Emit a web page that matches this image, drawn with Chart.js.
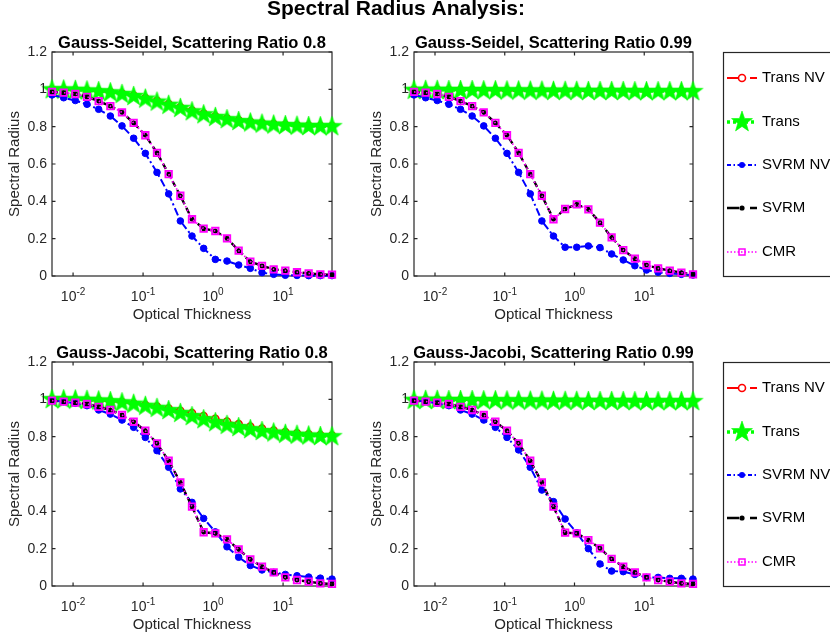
<!DOCTYPE html>
<html>
<head>
<meta charset="utf-8">
<script src="https://cdn.jsdelivr.net/npm/chart.js@4.4.1/dist/chart.umd.min.js"></script>
<style>
  html, body { margin: 0; padding: 0; background: #fff; }
  #fig { position: relative; width: 830px; height: 640px; overflow: hidden; background: #fff; }
  #fig canvas { position: absolute; }
</style>
</head>
<body>
<div id="fig">
  <canvas id="bg" width="830" height="640" style="left:0;top:0"></canvas>
</div>
<script>
// Optical thickness sample points (shared by every panel)
const tau = [0.005, 0.00734, 0.01077, 0.01581, 0.02321, 0.03407, 0.05, 0.07339, 0.1077, 0.1581,
             0.2321, 0.3407, 0.5, 0.7339, 1.077, 1.581, 2.321, 3.407, 5, 7.339,
             10.77, 15.81, 23.21, 34.07, 50];

const yTicks = [0, 0.2, 0.4, 0.6, 0.8, 1, 1.2];
const xDecades = [0.01, 0.1, 1, 10];
const xDecadeExp = ['-2', '-1', '0', '1'];
const seriesNames = ['Trans NV', 'Trans', 'SVRM NV', 'SVRM', 'CMR'];
const panelTitles = [
  'Gauss-Seidel, Scattering Ratio 0.8',
  'Gauss-Seidel, Scattering Ratio 0.99',
  'Gauss-Jacobi, Scattering Ratio 0.8',
  'Gauss-Jacobi, Scattering Ratio 0.99'
];

// Gauss-Seidel, c = 0.8
const gs08TransNV = [0.999, 0.998, 0.996, 0.994, 0.990, 0.985, 0.977, 0.967, 0.953, 0.938, 0.921, 0.904, 0.887, 0.870, 0.856, 0.844, 0.834, 0.826, 0.819, 0.814, 0.810, 0.807, 0.805, 0.804, 0.803];
const gs08Trans   = [0.998, 0.997, 0.995, 0.992, 0.988, 0.982, 0.973, 0.962, 0.948, 0.932, 0.915, 0.898, 0.880, 0.864, 0.850, 0.838, 0.828, 0.820, 0.814, 0.809, 0.806, 0.803, 0.801, 0.800, 0.800];
const gs08SvrmNV  = [0.970, 0.955, 0.940, 0.920, 0.893, 0.857, 0.804, 0.738, 0.657, 0.555, 0.440, 0.295, 0.214, 0.148, 0.089, 0.080, 0.059, 0.041, 0.018, 0.009, 0.004, 0.003, 0.002, 0.002, 0.002];
const gs08Svrm    = [0.986, 0.982, 0.975, 0.960, 0.937, 0.910, 0.877, 0.820, 0.754, 0.660, 0.546, 0.430, 0.304, 0.254, 0.241, 0.202, 0.136, 0.077, 0.054, 0.036, 0.029, 0.020, 0.014, 0.009, 0.007];
const gs08Cmr     = [0.986, 0.982, 0.975, 0.960, 0.937, 0.910, 0.877, 0.820, 0.754, 0.660, 0.546, 0.430, 0.304, 0.254, 0.241, 0.202, 0.136, 0.077, 0.054, 0.036, 0.029, 0.020, 0.014, 0.009, 0.007];

// Gauss-Seidel, c = 0.99
const gs99TransNV = [0.997, 0.997, 0.997, 0.996, 0.996, 0.996, 0.995, 0.995, 0.994, 0.994, 0.993, 0.993, 0.992, 0.992, 0.992, 0.991, 0.991, 0.991, 0.991, 0.990, 0.990, 0.990, 0.990, 0.990, 0.990];
const gs99Trans   = [0.995, 0.995, 0.995, 0.994, 0.994, 0.994, 0.993, 0.993, 0.992, 0.992, 0.991, 0.991, 0.990, 0.990, 0.990, 0.989, 0.989, 0.989, 0.989, 0.988, 0.988, 0.988, 0.988, 0.988, 0.988];
const gs99SvrmNV  = [0.970, 0.955, 0.940, 0.920, 0.893, 0.857, 0.804, 0.738, 0.657, 0.555, 0.440, 0.295, 0.214, 0.154, 0.154, 0.161, 0.152, 0.118, 0.086, 0.055, 0.032, 0.020, 0.014, 0.009, 0.005];
const gs99Svrm    = [0.986, 0.982, 0.975, 0.960, 0.937, 0.910, 0.877, 0.820, 0.754, 0.660, 0.546, 0.430, 0.304, 0.359, 0.384, 0.357, 0.286, 0.207, 0.139, 0.093, 0.059, 0.041, 0.029, 0.018, 0.009];
const gs99Cmr     = [0.986, 0.982, 0.975, 0.960, 0.937, 0.910, 0.877, 0.820, 0.754, 0.660, 0.546, 0.430, 0.304, 0.359, 0.384, 0.357, 0.286, 0.207, 0.139, 0.093, 0.059, 0.041, 0.029, 0.018, 0.009];

// Gauss-Jacobi, c = 0.8
const gj08TransNV = [1.000, 0.999, 0.998, 0.996, 0.993, 0.990, 0.985, 0.978, 0.970, 0.961, 0.951, 0.939, 0.926, 0.911, 0.896, 0.881, 0.867, 0.854, 0.843, 0.833, 0.825, 0.818, 0.813, 0.809, 0.806];
const gj08Trans   = [0.999, 0.998, 0.997, 0.995, 0.992, 0.988, 0.982, 0.974, 0.963, 0.952, 0.940, 0.925, 0.908, 0.891, 0.875, 0.861, 0.849, 0.838, 0.828, 0.820, 0.813, 0.808, 0.804, 0.801, 0.800];
const gj08SvrmNV  = [0.993, 0.988, 0.979, 0.966, 0.943, 0.921, 0.889, 0.850, 0.796, 0.725, 0.636, 0.520, 0.448, 0.362, 0.290, 0.210, 0.154, 0.110, 0.086, 0.073, 0.062, 0.055, 0.048, 0.042, 0.037];
const gj08Svrm    = [0.993, 0.988, 0.982, 0.975, 0.960, 0.943, 0.916, 0.880, 0.832, 0.764, 0.671, 0.555, 0.425, 0.288, 0.282, 0.250, 0.196, 0.143, 0.104, 0.073, 0.046, 0.032, 0.023, 0.014, 0.011];
const gj08Cmr     = [0.993, 0.988, 0.982, 0.975, 0.960, 0.943, 0.916, 0.880, 0.832, 0.764, 0.671, 0.555, 0.425, 0.288, 0.282, 0.250, 0.196, 0.143, 0.104, 0.073, 0.046, 0.032, 0.023, 0.014, 0.011];

// Gauss-Jacobi, c = 0.99
const gj99TransNV = [0.997, 0.997, 0.997, 0.996, 0.996, 0.996, 0.995, 0.995, 0.994, 0.994, 0.993, 0.993, 0.992, 0.992, 0.992, 0.991, 0.991, 0.991, 0.991, 0.990, 0.990, 0.990, 0.990, 0.990, 0.990];
const gj99Trans   = [0.995, 0.995, 0.995, 0.994, 0.994, 0.994, 0.993, 0.993, 0.992, 0.992, 0.991, 0.991, 0.990, 0.990, 0.990, 0.989, 0.989, 0.989, 0.989, 0.988, 0.988, 0.988, 0.988, 0.988, 0.988];
const gj99SvrmNV  = [0.993, 0.988, 0.979, 0.966, 0.943, 0.921, 0.889, 0.850, 0.796, 0.729, 0.636, 0.514, 0.452, 0.359, 0.285, 0.200, 0.118, 0.080, 0.077, 0.062, 0.046, 0.046, 0.041, 0.041, 0.037];
const gj99Svrm    = [0.993, 0.988, 0.982, 0.975, 0.960, 0.943, 0.916, 0.880, 0.832, 0.764, 0.671, 0.555, 0.425, 0.286, 0.282, 0.246, 0.202, 0.145, 0.104, 0.073, 0.046, 0.032, 0.023, 0.014, 0.011];
const gj99Cmr     = [0.993, 0.988, 0.982, 0.975, 0.960, 0.943, 0.916, 0.880, 0.832, 0.764, 0.671, 0.555, 0.425, 0.286, 0.282, 0.246, 0.202, 0.145, 0.104, 0.073, 0.046, 0.032, 0.023, 0.014, 0.011];

const FONT = '"Liberation Sans", Arial, Helvetica, sans-serif';
const AXIS_COLOR = '#262626';

// Filled five-point star used as the "Trans" marker
function starCanvas(rOut, color) {
  const s = Math.ceil(rOut * 2 + 2);
  const cv = document.createElement('canvas');
  cv.width = s; cv.height = s;
  const g = cv.getContext('2d');
  const cx = s / 2, cy = s / 2;
  g.beginPath();
  for (let i = 0; i < 10; i++) {
    const r = (i % 2) ? rOut * 0.4 : rOut;
    const a = -Math.PI / 2 + i * Math.PI / 5;
    g.lineTo(cx + r * Math.cos(a), cy + r * Math.sin(a));
  }
  g.closePath();
  g.fillStyle = color; g.fill();
  g.strokeStyle = color; g.lineWidth = 0.6; g.stroke();
  return cv;
}
const starMarker = starCanvas(10.5, '#00ff00');
const starLegend = starCanvas(11, '#00ff00');

// Line / marker styles for the five methods (MATLAB-like)
const styles = [
  { color: '#ff0000', width: 2,   dash: [8, 4],         legendDash: [12, 11], point: 'circle', radius: 3.5, fill: '#ffffff', pw: 1.6, order: 5 },
  { color: '#00ff00', width: 2.5, dash: [2.5, 3],       legendDash: [3, 3],   point: starMarker, radius: 10, fill: '#00ff00', pw: 0, order: 4 },
  { color: '#0000ff', width: 2,   dash: [8, 3, 2, 3],   legendDash: [4, 2.5, 1.5, 2.5], point: 'circle', radius: 3.3, fill: '#0000ff', pw: 1, order: 3 },
  { color: '#000000', width: 2.4, dash: [6, 4],         legendDash: [12, 11], point: 'star',   radius: 2.6, fill: '#000000', pw: 1.4, order: 2 },
  { color: '#ff00ff', width: 1.7, dash: [1.5, 2.5],     legendDash: [1.5, 2], point: 'rect',   radius: 4.6, fill: 'rgba(255,255,255,0)', pw: 1.8, order: 1 }
];

const panels = [
  { title: panelTitles[0], l: 52,  t: 52,  r: 332, b: 276, series: [gs08TransNV, gs08Trans, gs08SvrmNV, gs08Svrm, gs08Cmr] },
  { title: panelTitles[1], l: 414, t: 52,  r: 693, b: 276, series: [gs99TransNV, gs99Trans, gs99SvrmNV, gs99Svrm, gs99Cmr] },
  { title: panelTitles[2], l: 52,  t: 362, r: 332, b: 586, series: [gj08TransNV, gj08Trans, gj08SvrmNV, gj08Svrm, gj08Cmr] },
  { title: panelTitles[3], l: 414, t: 362, r: 693, b: 586, series: [gj99TransNV, gj99Trans, gj99SvrmNV, gj99Svrm, gj99Cmr] }
];

// Box, inward ticks and labels in the MATLAB axes style
const matlabAxes = {
  id: 'matlabAxes',
  beforeDatasetsDraw(chart) {
    const { ctx, chartArea: a, scales: { x, y } } = chart;
    ctx.save();
    ctx.strokeStyle = AXIS_COLOR;
    ctx.lineWidth = 1.2;
    ctx.strokeRect(a.left, a.top, a.right - a.left, a.bottom - a.top);
    ctx.beginPath();
    for (const v of yTicks) {
      const py = y.getPixelForValue(v);
      ctx.moveTo(a.left, py); ctx.lineTo(a.left + 3.5, py);
      ctx.moveTo(a.right, py); ctx.lineTo(a.right - 3.5, py);
    }
    for (const v of xDecades) {
      const px = x.getPixelForValue(v);
      ctx.moveTo(px, a.bottom); ctx.lineTo(px, a.bottom - 3.5);
      ctx.moveTo(px, a.top); ctx.lineTo(px, a.top + 3.5);
    }
    ctx.stroke();
    ctx.restore();
  },
  afterDraw(chart, args, opts) {
    const { ctx, chartArea: a, scales: { x, y } } = chart;
    ctx.save();
    ctx.fillStyle = AXIS_COLOR;
    // y tick labels
    ctx.font = '14px ' + FONT;
    ctx.textAlign = 'right';
    ctx.textBaseline = 'middle';
    for (const v of yTicks) {
      ctx.fillText(String(Number(v.toFixed(1))), a.left - 5, y.getPixelForValue(v));
    }
    // x tick labels: 10 with superscript exponent
    xDecades.forEach((v, i) => {
      const px = x.getPixelForValue(v);
      ctx.font = '14px ' + FONT;
      const wb = ctx.measureText('10').width;
      ctx.font = '10px ' + FONT;
      const we = ctx.measureText(xDecadeExp[i]).width;
      const x0 = px - (wb + we) / 2;
      ctx.textAlign = 'left';
      ctx.textBaseline = 'alphabetic';
      ctx.font = '14px ' + FONT;
      ctx.fillText('10', x0, a.bottom + 25);
      ctx.font = '10px ' + FONT;
      ctx.fillText(xDecadeExp[i], x0 + wb, a.bottom + 19);
    });
    // axis titles
    ctx.font = '15px ' + FONT;
    ctx.textAlign = 'center';
    ctx.textBaseline = 'middle';
    ctx.fillText('Optical Thickness', (a.left + a.right) / 2, a.bottom + 39);
    ctx.save();
    ctx.translate(a.left - 37, (a.top + a.bottom) / 2);
    ctx.rotate(-Math.PI / 2);
    ctx.fillText('Spectral Radius', 0, 0);
    ctx.restore();
    // panel title
    ctx.fillStyle = '#000';
    ctx.font = 'bold 16.5px ' + FONT;
    ctx.textBaseline = 'alphabetic';
    ctx.fillText(opts.title, (a.left + a.right) / 2, a.top - 4);
    ctx.restore();
  }
};

const fig = document.getElementById('fig');

function makePanel(p) {
  const padL = 52, padT = 32, padR = 20, padB = 52;
  const c = document.createElement('canvas');
  c.width = padL + (p.r - p.l) + padR;
  c.height = padT + (p.b - p.t) + padB;
  c.style.left = (p.l - padL) + 'px';
  c.style.top = (p.t - padT) + 'px';
  fig.appendChild(c);

  const datasets = p.series.map((vals, i) => {
    const s = styles[i];
    return {
      label: seriesNames[i],
      data: tau.map((t, k) => ({ x: t, y: vals[k] })),
      borderColor: s.color,
      borderWidth: s.width,
      borderDash: s.dash,
      pointStyle: s.point,
      pointRadius: s.radius,
      pointHoverRadius: s.radius,
      pointBackgroundColor: s.fill,
      pointBorderColor: s.color,
      pointBorderWidth: s.pw,
      tension: 0,
      fill: false,
      clip: false,
      order: s.order
    };
  });

  new Chart(c, {
    type: 'line',
    data: { datasets },
    options: {
      responsive: false,
      animation: false,
      devicePixelRatio: 1,
      events: [],
      layout: { padding: { left: padL, top: padT, right: padR, bottom: padB } },
      scales: {
        x: { type: 'logarithmic', min: 0.005, max: 50, display: false },
        y: { type: 'linear', min: 0, max: 1.2, display: false }
      },
      plugins: {
        legend: { display: false },
        tooltip: { enabled: false },
        matlabAxes: { title: p.title }
      }
    },
    plugins: [matlabAxes]
  });
}

panels.forEach(makePanel);

// Figure title and the two legend boxes
(function drawFigureDecor() {
  const ctx = document.getElementById('bg').getContext('2d');
  ctx.fillStyle = '#000';
  ctx.font = 'bold 21px ' + FONT;
  ctx.textAlign = 'center';
  ctx.textBaseline = 'alphabetic';
  ctx.fillText('Spectral Radius Analysis:', 396, 15);

  const rowOffsets = [26, 70, 113, 156, 200];
  [52, 362].forEach(top => {
    ctx.save();
    ctx.strokeStyle = AXIS_COLOR;
    ctx.lineWidth = 1.2;
    ctx.strokeRect(723.5, top + 0.5, 130, 224);
    ctx.restore();
    styles.forEach((s, i) => {
      const yy = top + rowOffsets[i];
      ctx.save();
      ctx.strokeStyle = s.color;
      ctx.lineWidth = (i === 1) ? 3.5 : s.width;
      ctx.setLineDash(s.legendDash);
      ctx.beginPath();
      ctx.moveTo(727, yy); ctx.lineTo(757, yy);
      ctx.stroke();
      ctx.setLineDash([]);
      const mx = 742;
      if (i === 0) {
        ctx.beginPath(); ctx.arc(mx, yy, 3.5, 0, Math.PI * 2);
        ctx.fillStyle = '#fff'; ctx.fill();
        ctx.lineWidth = 1.6; ctx.strokeStyle = s.color; ctx.stroke();
      } else if (i === 1) {
        ctx.drawImage(starLegend, mx - starLegend.width / 2, yy - starLegend.height / 2);
      } else if (i === 2) {
        ctx.beginPath(); ctx.arc(mx, yy, 3, 0, Math.PI * 2);
        ctx.fillStyle = s.color; ctx.fill();
      } else if (i === 3) {
        ctx.beginPath(); ctx.arc(mx, yy, 2.6, 0, Math.PI * 2);
        ctx.fillStyle = s.color; ctx.fill();
      } else {
        ctx.lineWidth = 1.5; ctx.strokeStyle = s.color;
        ctx.strokeRect(mx - 3, yy - 3, 6, 6);
      }
      ctx.restore();
      ctx.fillStyle = '#000';
      ctx.font = '15px ' + FONT;
      ctx.textAlign = 'left';
      ctx.textBaseline = 'middle';
      ctx.fillText(seriesNames[i], 762, yy);
    });
  });
})();
</script>
</body>
</html>
